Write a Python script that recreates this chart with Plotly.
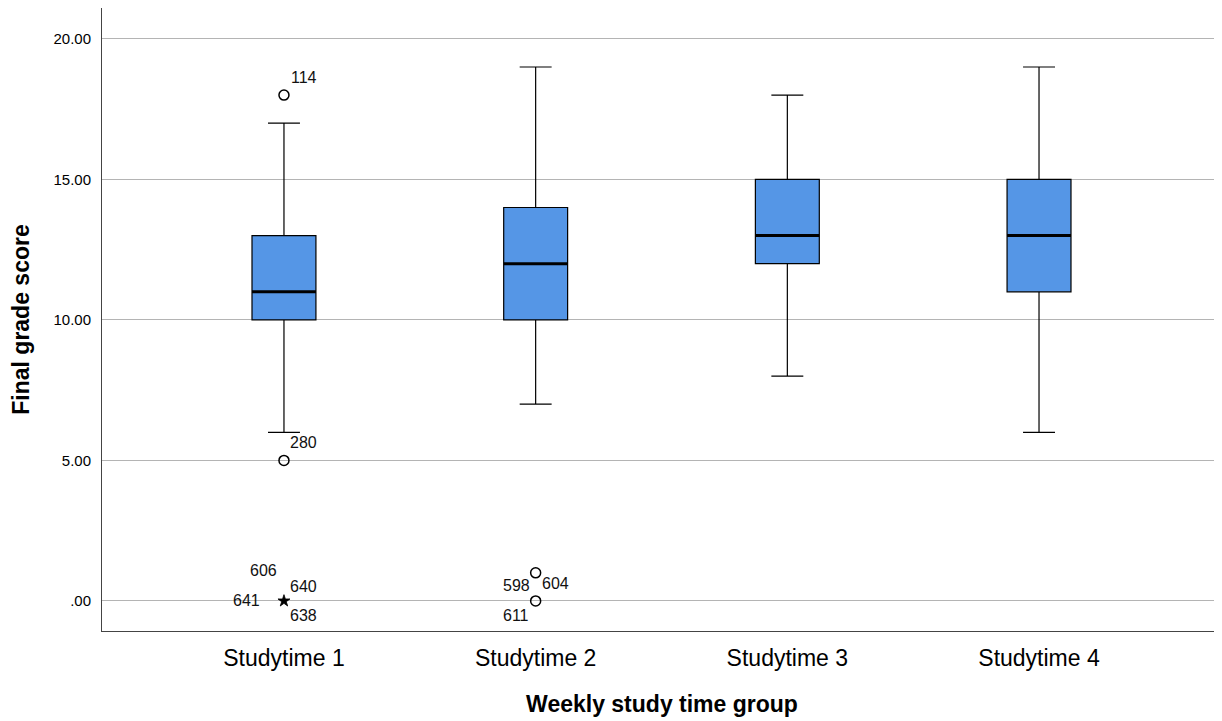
import plotly.graph_objects as go

categories = ["Studytime 1", "Studytime 2", "Studytime 3", "Studytime 4"]
lower_whisker = [6, 7, 8, 6]
q1 = [10, 10, 12, 11]
median = [11, 12, 13, 13]
q3 = [13, 14, 15, 15]
upper_whisker = [17, 19, 18, 19]

# outliers (circles): group index, value
outlier_group = [0, 0, 1, 1]
outlier_value = [18, 5, 1, 0]
# extremes (stars)
extreme_group = [0]
extreme_value = [0]

# case labels: group, value, label, x shift (px), y shift (px)
label_group = [0, 0, 0, 0, 0, 0, 1, 1, 1]
label_value = [18, 5, 0, 0, 0, 0, 0, 0, 0]
label_text = ["114", "280", "606", "640", "641", "638", "598", "604", "611"]
label_dx = [5, 4, -5, 4, -22, 4, -4, 4, -5]
label_dy = [18, 18, 30, 14, 0, -15, 15, 17, -15]

BOX_W = 0.254
fill = "#5596E6"
FONT = "Liberation Sans, Arial, sans-serif"

fig = go.Figure()
for i, c in enumerate(categories):
    fig.add_trace(go.Box(
        x=[i], q1=[q1[i]], median=[median[i]], q3=[q3[i]],
        lowerfence=[lower_whisker[i]], upperfence=[upper_whisker[i]],
        width=BOX_W, whiskerwidth=0.5, fillcolor=fill,
        line=dict(color="black", width=1.2), boxpoints=False,
        showlegend=False, hoverinfo="skip"))
    fig.add_trace(go.Scatter(
        x=[i - BOX_W / 2, i + BOX_W / 2], y=[median[i], median[i]],
        mode="lines", line=dict(color="black", width=3),
        showlegend=False, hoverinfo="skip"))

fig.add_trace(go.Scatter(
    x=outlier_group, y=outlier_value, mode="markers",
    marker=dict(symbol="circle-open", size=10, color="black",
                line=dict(color="black", width=1.5)),
    showlegend=False, hoverinfo="skip"))
fig.add_trace(go.Scatter(
    x=extreme_group, y=extreme_value, mode="markers",
    marker=dict(symbol="star", size=9, color="black",
                line=dict(color="black", width=0.8)),
    showlegend=False, hoverinfo="skip"))

for g, v, t, dx, dy in zip(label_group, label_value, label_text, label_dx, label_dy):
    fig.add_annotation(x=g, y=v, text=t, showarrow=False, xshift=dx, yshift=dy,
                       xanchor="left" if dx > 0 else "right",
                       font=dict(family=FONT, size=16, color="#111"))

fig.update_layout(
    width=1222, height=721,
    margin=dict(l=94, r=8, t=0, b=98),
    paper_bgcolor="white", plot_bgcolor="white",
    font=dict(family=FONT, color="black"),
    xaxis=dict(
        range=[-0.723, 3.727], tickmode="array",
        tickvals=list(range(len(categories))), ticktext=categories,
        tickfont=dict(size=23), showgrid=False, zeroline=False, automargin=False,
        showline=True, linecolor="#444", linewidth=1, ticks="",
        ticklabelstandoff=6,
        title=dict(text="<b>Weekly study time group</b>", font=dict(size=23), standoff=26)),
    yaxis=dict(
        range=[-1.07, 21.1], tickmode="array",
        tickvals=[0, 5, 10, 15, 20], ticktext=[".00", "5.00", "10.00", "15.00", "20.00"],
        tickfont=dict(size=15), showgrid=True, gridcolor="#B4B4B4", gridwidth=1,
        zeroline=False, showline=True, linecolor="#444", linewidth=1, ticks="",
        ticklabelstandoff=7, automargin=False,
        title=dict(text="<b>Final grade score</b>", font=dict(size=23), standoff=18)),
)

fig.write_html("out.html")
